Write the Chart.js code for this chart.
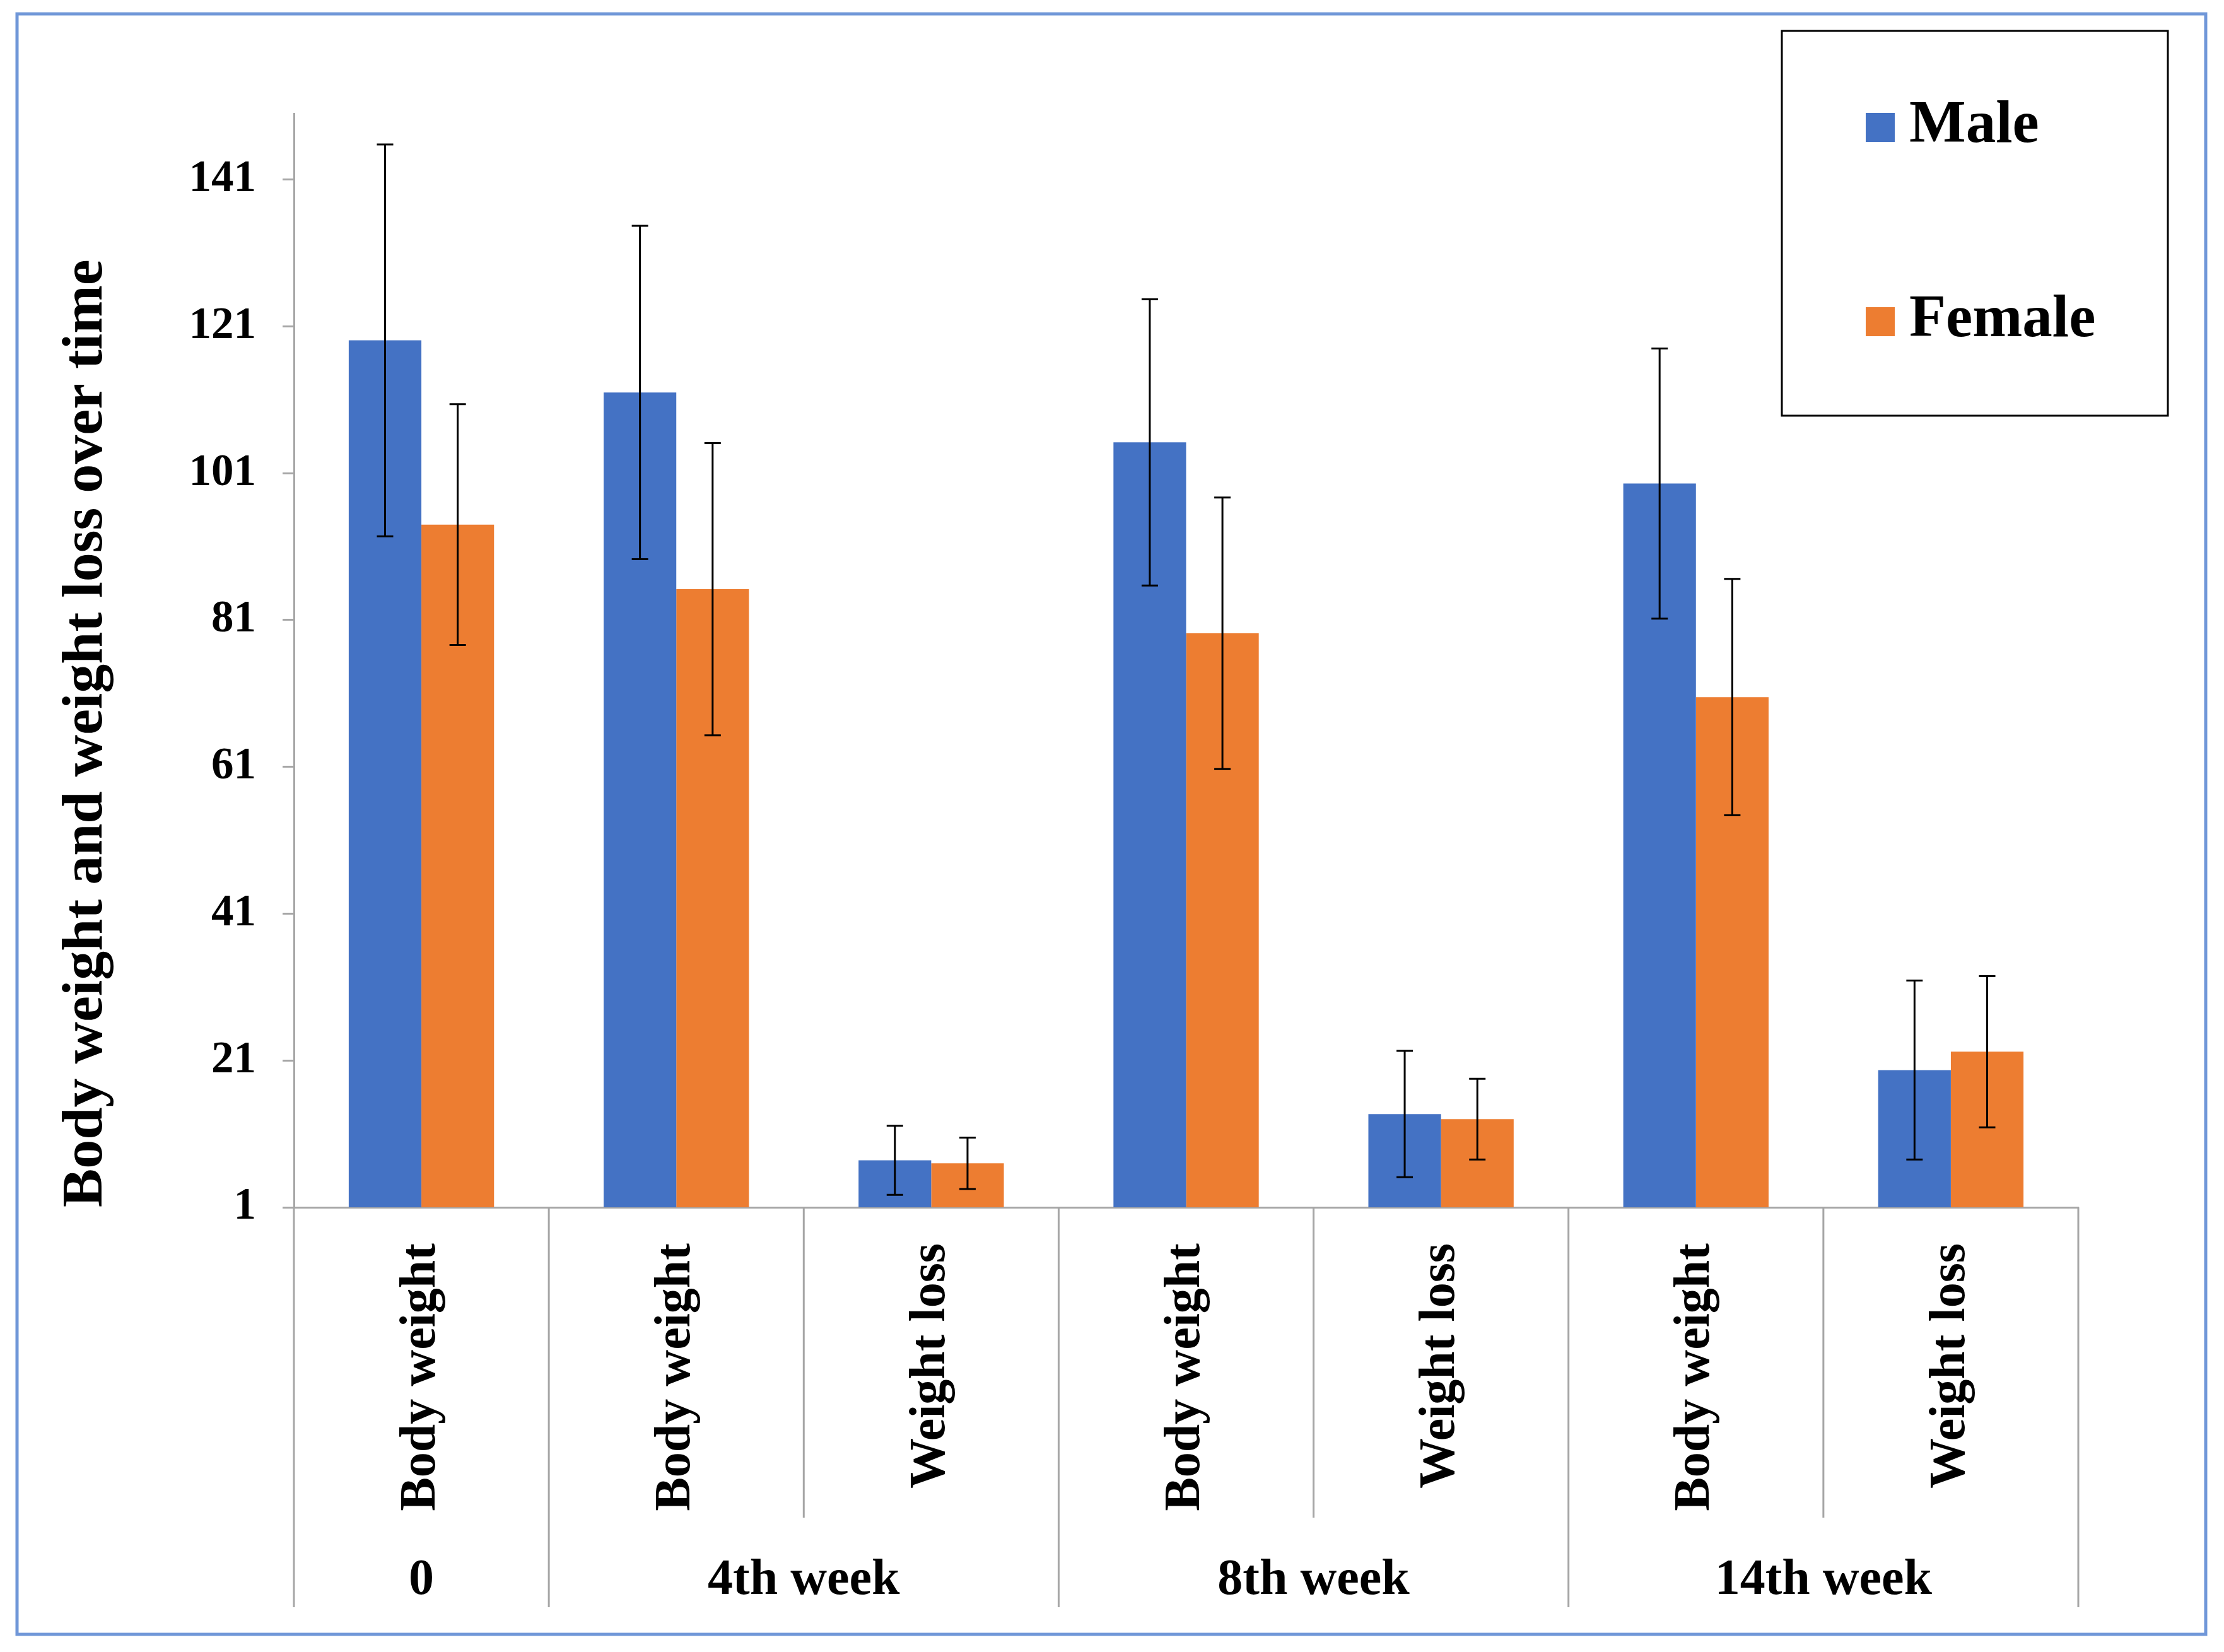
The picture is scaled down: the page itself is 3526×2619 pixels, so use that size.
<!DOCTYPE html>
<html>
<head>
<meta charset="utf-8">
<script src="https://cdn.jsdelivr.net/npm/chart.js@4/dist/chart.umd.min.js"></script>
<style>
  html, body { margin: 0; padding: 0; background: #fff; }
  #wrap { width: 3526px; height: 2619px; }
</style>
</head>
<body>
<div id="wrap"><canvas id="weights" width="3526" height="2619"></canvas></div>
<script>
// data
var categories = ['Body weight', 'Body weight', 'Weight loss', 'Body weight', 'Weight loss', 'Body weight', 'Weight loss'];
var groups = ['0', '4th week', '8th week', '14th week'];
var groupSpans = [1, 2, 2, 2];
var male = [119.1, 112, 7.4, 105.2, 13.7, 99.6, 19.7];
var maleErr = [26.7, 22.7, 4.7, 19.5, 8.6, 18.4, 12.2];
var female = [94, 85.2, 7, 79.2, 13, 70.5, 22.2];
var femaleErr = [16.4, 19.9, 3.5, 18.5, 5.5, 16.1, 10.3];
var yTicks = [1, 21, 41, 61, 81, 101, 121, 141];

var serif = '"Liberation Serif", "Times New Roman", serif';
var axisGrey = '#a6a6a6';

var errorBars = {
    id: 'errorBars',
    afterDatasetsDraw: function (chart) {
        var ctx = chart.ctx;
        var y = chart.scales.y;
        var errs = [maleErr, femaleErr];
        ctx.save();
        ctx.strokeStyle = '#000';
        ctx.lineWidth = 3;
        chart.data.datasets.forEach(function (ds, d) {
            chart.getDatasetMeta(d).data.forEach(function (bar, i) {
                var top = y.getPixelForValue(ds.data[i] + errs[d][i]);
                var bot = y.getPixelForValue(ds.data[i] - errs[d][i]);
                ctx.beginPath();
                ctx.moveTo(bar.x, top); ctx.lineTo(bar.x, bot);
                ctx.moveTo(bar.x - 13, top); ctx.lineTo(bar.x + 13, top);
                ctx.moveTo(bar.x - 13, bot); ctx.lineTo(bar.x + 13, bot);
                ctx.stroke();
            });
        });
        ctx.restore();
    }
};

// multi-level category axis: separators + group labels
var groupAxis = {
    id: 'groupAxis',
    afterDraw: function (chart) {
        var ctx = chart.ctx;
        var x = chart.scales.x;
        var half = (x.getPixelForValue(1) - x.getPixelForValue(0)) / 2;
        var axisY = chart.chartArea.bottom;
        ctx.save();
        ctx.strokeStyle = axisGrey;
        ctx.lineWidth = 3;
        var starts = [0];
        groupSpans.forEach(function (s, g) { starts.push(starts[g] + s); });
        for (var i = 0; i <= categories.length; i++) {
            var px = x.getPixelForValue(i) - half;
            var isGroupEdge = starts.indexOf(i) >= 0;
            ctx.beginPath();
            ctx.moveTo(px, axisY);
            ctx.lineTo(px, isGroupEdge ? 2548 : 2406);
            ctx.stroke();
        }
        ctx.fillStyle = '#000';
        ctx.font = 'bold 80px ' + serif;
        ctx.textAlign = 'center';
        ctx.textBaseline = 'middle';
        groups.forEach(function (g, k) {
            var mid = (x.getPixelForValue(starts[k]) + x.getPixelForValue(starts[k + 1] - 1)) / 2;
            ctx.fillText(g, mid, 2506);
        });
        ctx.restore();
    }
};

var legendBox = {
    id: 'legendBox',
    afterDraw: function (chart) {
        var ctx = chart.ctx;
        ctx.save();
        ctx.strokeStyle = '#000';
        ctx.lineWidth = 3;
        ctx.strokeRect(2825, 49, 612, 610);
        ctx.font = 'bold 95px ' + serif;
        ctx.textBaseline = 'middle';
        ctx.textAlign = 'left';
        var rows = [200, 508];
        chart.data.datasets.forEach(function (ds, d) {
            ctx.fillStyle = ds.backgroundColor;
            ctx.fillRect(2958, rows[d] - 21, 46, 46);
            ctx.fillStyle = '#000';
            ctx.fillText(ds.label, 3027, rows[d]);
        });
        ctx.restore();
    }
};

var frame = {
    id: 'frame',
    beforeDraw: function (chart) {
        var ctx = chart.ctx;
        ctx.save();
        ctx.fillStyle = '#fff';
        ctx.fillRect(0, 0, chart.width, chart.height);
        ctx.strokeStyle = '#7097d8';
        ctx.lineWidth = 5;
        ctx.strokeRect(27, 22, 3470, 2569);
        ctx.restore();
    }
};

new Chart(document.getElementById('weights'), {
    type: 'bar',
    data: {
        labels: categories,
        datasets: [
            { label: 'Male', backgroundColor: '#4472C4', data: male },
            { label: 'Female', backgroundColor: '#ED7D31', data: female }
        ]
    },
    options: {
        responsive: false,
        animation: false,
        devicePixelRatio: 1,
        layout: { padding: { left: 0, top: 180, right: 231, bottom: 0 } },
        datasets: { bar: { categoryPercentage: 0.57, barPercentage: 1.0 } },
        plugins: {
            legend: { display: false },
            tooltip: { enabled: false }
        },
        scales: {
            x: {
                afterFit: function (s) { s.height = 705; },
                grid: { display: false },
                border: { display: true, color: axisGrey, width: 3 },
                ticks: {
                    autoSkip: false,
                    minRotation: 90,
                    maxRotation: 90,
                    padding: 49,
                    color: '#000',
                    font: { family: serif, size: 80, weight: 'bold' }
                }
            },
            y: {
                min: 1,
                max: 150,
                afterFit: function (s) { s.width = 466; },
                afterBuildTicks: function (s) { s.ticks = yTicks.map(function (v) { return { value: v }; }); },
                grid: { drawOnChartArea: false, drawTicks: true, tickLength: 18, color: axisGrey, lineWidth: 3 },
                border: { display: true, color: axisGrey, width: 3 },
                ticks: {
                    padding: 42,
                    color: '#000',
                    font: { family: serif, size: 71, weight: 'bold' }
                },
                title: {
                    display: true,
                    text: 'Body weight and weight loss over time',
                    align: 'start',
                    color: '#000',
                    padding: { top: 82, bottom: 0 },
                    font: { family: serif, size: 92, weight: 'bold' }
                }
            }
        }
    },
    plugins: [frame, errorBars, groupAxis, legendBox]
});
</script>
</body>
</html>
